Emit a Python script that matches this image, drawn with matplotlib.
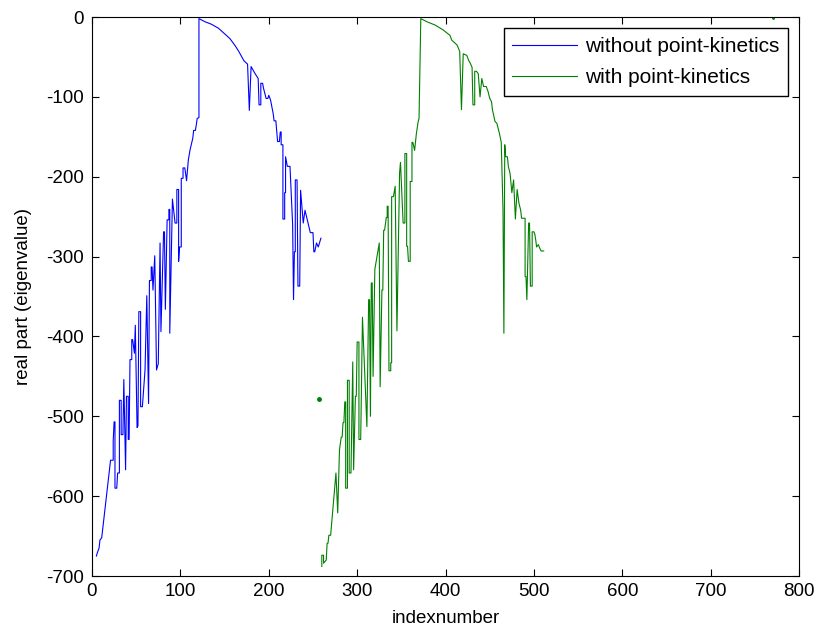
import matplotlib
matplotlib.use('Agg')
import matplotlib.pyplot as plt
import numpy as np

plt.rcParams['font.family'] = ['Liberation Sans', 'DejaVu Sans']
plt.rcParams['axes.unicode_minus'] = False

# blue curve: eigenvalue real parts without point-kinetics (vertices)
idx_without = [5, 6, 8, 9, 11, 21, 24, 24, 25, 26, 26, 28, 29, 31, 31, 33, 33, 35, 36, 38,
               39, 41, 41, 42, 43, 45, 45, 46, 48, 49, 51, 52, 53, 55, 55, 57, 60, 62, 64, 65,
               67, 67, 68, 69, 71, 73, 75, 77, 78, 81, 82, 83, 85, 87, 87, 88, 88, 91, 94, 96,
               96, 98, 98, 99, 101, 101, 103, 103, 105, 107, 109, 111, 114, 115, 117, 118, 119, 121, 121, 128,
               135, 143, 150, 156, 162, 166, 169, 172, 176, 178, 180, 184, 188, 189, 191, 191, 193, 194, 197, 199,
               200, 202, 205, 206, 208, 210, 212, 213, 214, 214, 216, 216, 218, 218, 219, 219, 221, 224, 227, 228,
               229, 230, 230, 232, 233, 235, 236, 239, 241, 247, 250, 251, 252, 254, 256, 259]
re_without = [-675, -671, -665, -655, -652, -555, -555, -531, -507, -507, -590, -590, -571, -571, -480, -480, -523, -523, -454, -567,
              -475, -475, -529, -529, -429, -429, -404, -404, -421, -386, -514, -512, -369, -369, -488, -488, -442, -349, -484, -330,
              -330, -313, -313, -342, -299, -442, -434, -283, -394, -269, -269, -366, -254, -254, -241, -241, -396, -228, -258, -258,
              -216, -216, -306, -288, -288, -202, -202, -189, -189, -205, -179, -166, -152, -142, -142, -135, -127, -126, -2, -6,
              -9, -14, -21, -27, -36, -43, -49, -55, -59, -117, -62, -70, -77, -110, -110, -83, -83, -89, -102, -102,
              -98, -104, -121, -130, -130, -156, -156, -144, -144, -160, -160, -253, -253, -220, -220, -175, -187, -187, -260, -354,
              -294, -294, -204, -204, -337, -337, -217, -258, -242, -270, -270, -294, -294, -283, -288, -277]

# green curve: with point-kinetics
idx_with = [260, 260, 262, 262, 265, 266, 267, 268, 270, 276,
            278, 280, 282, 283, 284, 285, 286, 287, 287, 289,
            289, 291, 291, 293, 295, 296, 298, 299, 300, 302,
            302, 304, 306, 311, 313, 314, 315, 316, 317, 318,
            320, 325, 326, 328, 329, 330, 331, 333, 334, 334,
            335, 336, 338, 338, 339, 339, 341, 343, 345, 348,
            349, 352, 354, 354, 356, 356, 357, 358, 360, 360,
            362, 362, 363, 365, 367, 369, 370, 372, 379, 388,
            397, 405, 407, 413, 416, 418, 420, 424, 426, 428,
            430, 431, 433, 433, 435, 437, 439, 441, 443, 446,
            448, 450, 452, 453, 456, 458, 461, 463, 465, 466,
            467, 468, 470, 471, 473, 475, 477, 479, 481, 483,
            485, 486, 490, 490, 491, 492, 494, 495, 496, 498,
            498, 500, 501, 502, 503, 505, 506, 508, 510, 511]
re_with = [-688, -674, -674, -684, -680, -659, -659, -649, -649, -571,
           -621, -542, -526, -526, -508, -508, -482, -482, -590, -590,
           -455, -455, -571, -571, -432, -567, -475, -475, -407, -407,
           -529, -529, -376, -513, -354, -354, -500, -333, -333, -450,
           -316, -283, -463, -342, -342, -267, -267, -251, -251, -237,
           -237, -443, -443, -433, -433, -225, -225, -212, -393, -195,
           -182, -258, -258, -171, -171, -287, -287, -306, -306, -206,
           -206, -157, -157, -167, -146, -131, -127, -2, -6, -10,
           -16, -23, -29, -35, -43, -116, -46, -48, -54, -58,
           -63, -110, -110, -68, -68, -71, -100, -77, -87, -87,
           -93, -102, -106, -116, -131, -133, -146, -157, -242, -396,
           -160, -175, -175, -187, -196, -220, -204, -253, -216, -233,
           -242, -252, -252, -325, -325, -354, -258, -258, -337, -337,
           -269, -269, -272, -279, -288, -285, -288, -293, -293, -293]

# isolated points of the green series
idx_single = [257, 770]
re_single = [-478, -1]

fig = plt.figure(figsize=(8.17, 6.32), dpi=100)
ax = fig.add_axes([0.1126, 0.0886, 0.8655, 0.8845])

ax.plot(idx_without, re_without, color=(0, 0, 1), lw=0.8, label='without point-kinetics')
ax.plot(idx_with, re_with, color=(0, 0.5, 0), lw=0.8, label='with point-kinetics')
ax.plot(idx_single[:1], re_single[:1], '.', color=(0, 0.5, 0), ms=5)
ax.plot(idx_single[1:], re_single[1:], '.', color=(0, 0.5, 0), ms=2)

ax.set_xlim(0, 800)
ax.set_ylim(-700, 0)
ax.set_xticks(np.arange(0, 801, 100))
ax.set_yticks(np.arange(-700, 1, 100))
ax.tick_params(direction='in', top=True, right=True, labelsize=13.5, length=5, width=0.8)
ax.tick_params(axis='y', pad=6)
ax.tick_params(axis='x', pad=5)
for s in ax.spines.values():
    s.set_linewidth(0.8)

ax.set_xlabel('indexnumber', fontsize=13.5, labelpad=7)
ax.set_ylabel('real part (eigenvalue)', fontsize=13.5, labelpad=10)

leg = ax.legend(loc='upper right', fontsize=15, fancybox=False, framealpha=1,
                edgecolor='black', handlelength=3.1, handletextpad=0.4,
                labelspacing=0.6, borderpad=0.4, borderaxespad=0.55)
leg.get_frame().set_linewidth(1.0)

fig.savefig('out.png', dpi=100)
